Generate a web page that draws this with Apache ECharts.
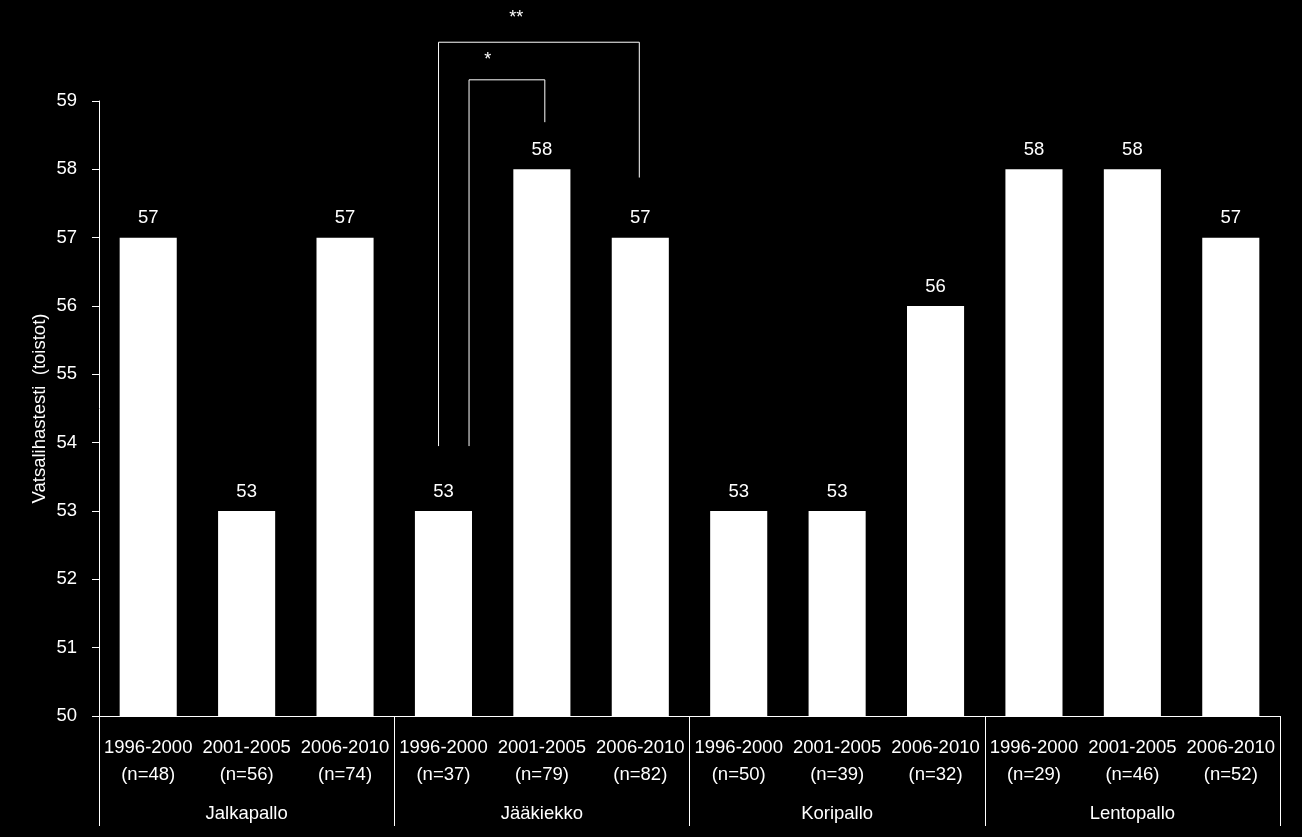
<!DOCTYPE html>
<html><head><meta charset="utf-8">
<script src="https://cdn.jsdelivr.net/npm/echarts@6/dist/echarts.min.js"></script>
<style>html,body{margin:0;padding:0;background:#000;}#c{width:1302px;height:837px;}</style>
</head><body><div id="c"></div>
<script>
var periods = ['1996-2000','2001-2005','2006-2010','1996-2000','2001-2005','2006-2010','1996-2000','2001-2005','2006-2010','1996-2000','2001-2005','2006-2010'];
var nCounts = [48,56,74,37,79,82,50,39,32,29,46,52];
var values = [57,53,57,53,58,57,53,53,56,58,58,57];
var groups = ['Jalkapallo','Jääkiekko','Koripallo','Lentopallo'];
var yTicks = {min:50, max:59, interval:1};
// significance brackets: [left bar index, left offset (bands), right bar index, right offset, top value, left bottom value, right bottom value, label, label x offset (bands from left), label value]
var brackets = [
  [3, 0.26, 4, 0.03, 59.31, 53.95, 58.69, '*', 0.19, 59.6],
  [3, -0.05, 5, -0.01, 59.86, 53.95, 57.88, '**', 0.79, 60.22]
];

var cats = periods.map(function(p,i){ return p + '\n(n=' + nCounts[i] + ')'; });
var font = '"Liberation Sans", Arial, sans-serif';
var chart = echarts.init(document.getElementById('c'));
chart.setOption({
  backgroundColor:'#000',
  animation:false,
  grid:{left:99,right:22,top:101,bottom:121},
  xAxis:[{
    type:'category', data:cats,
    axisLine:{lineStyle:{color:'#fff',width:1}},
    axisTick:{show:false},
    axisLabel:{color:'#fff',fontSize:18.5,fontFamily:font,lineHeight:27,margin:18,interval:0}
  },{
    type:'category', data:groups, position:'bottom',
    axisLine:{show:false},
    axisTick:{show:true,length:110,lineStyle:{color:'#fff',width:1}},
    axisLabel:{color:'#fff',fontSize:18.5,fontFamily:font,margin:88,interval:0}
  }],
  yAxis:{
    type:'value', min:yTicks.min, max:yTicks.max, interval:yTicks.interval,
    name:'Vatsalihastesti  (toistot)', nameLocation:'middle', nameGap:50, nameMoveOverlap:false,
    nameTextStyle:{color:'#fff',fontSize:18.5,fontFamily:font},
    axisLine:{show:true,lineStyle:{color:'#fff'}},
    axisTick:{show:true,length:7,lineStyle:{color:'#fff'}},
    axisLabel:{color:'#fff',fontSize:18.5,fontFamily:font,margin:22},
    splitLine:{show:false}
  },
  series:[{
    type:'bar', data:values, barWidth:'58%', xAxisIndex:0,
    itemStyle:{color:'#fff'},
    label:{show:true,position:'top',distance:10,color:'#fff',fontSize:18.5,fontFamily:font}
  }]
});

function drawBrackets(){
  var x0 = chart.convertToPixel({xAxisIndex:0}, 0);
  var x1 = chart.convertToPixel({xAxisIndex:0}, 1);
  var band = x1 - x0;
  var els = [];
  brackets.forEach(function(b){
    var xl = chart.convertToPixel({xAxisIndex:0}, b[0]) + b[1]*band;
    var xr = chart.convertToPixel({xAxisIndex:0}, b[2]) + b[3]*band;
    var yt = chart.convertToPixel({yAxisIndex:0}, b[4]);
    var ybl = chart.convertToPixel({yAxisIndex:0}, b[5]);
    var ybr = chart.convertToPixel({yAxisIndex:0}, b[6]);
    els.push({type:'polyline', shape:{points:[[xl,ybl],[xl,yt],[xr,yt],[xr,ybr]]}, style:{stroke:'#fff',lineWidth:1,fill:null}});
    var lx = xl + b[8]*band;
    var ly = chart.convertToPixel({yAxisIndex:0}, b[9]);
    els.push({type:'text', x:lx, y:ly, style:{text:b[7], fill:'#fff', fontSize:18, fontFamily:font, align:'center', verticalAlign:'middle'}});
  });
  chart.setOption({graphic:els});
}
drawBrackets();
</script></body></html>
